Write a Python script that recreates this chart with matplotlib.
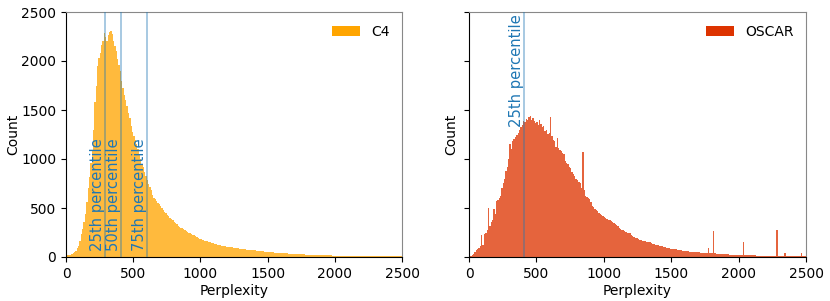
import numpy as np
import matplotlib
matplotlib.use("Agg")
import matplotlib.pyplot as plt
from matplotlib.patches import Patch

# Histogram bin edges: width 10 from 0 to 2500
bin_width = 10
n_bins = 250

c4_counts = [
    15, 18, 20, 25, 30, 40, 50, 65, 90, 115,
    160, 230, 290, 360, 440, 560, 700, 820, 960, 1080,
    1300, 1580, 1750, 1950, 2030, 2080, 2160, 2200, 2290, 2250,
    2200, 2270, 2300, 2310, 2280, 2200, 2150, 2100, 2020, 1960,
    1900, 1800, 1720, 1650, 1600, 1540, 1470, 1420, 1340, 1280,
    1230, 1190, 1150, 1100, 1040, 1000, 950, 920, 870, 830,
    790, 740, 710, 680, 630, 600, 590, 570, 555, 545,
    520, 500, 480, 460, 445, 430, 420, 400, 385, 375,
    360, 350, 335, 320, 310, 300, 295, 285, 275, 270,
    260, 250, 240, 235, 225, 220, 210, 200, 195, 188,
    182, 178, 172, 168, 165, 160, 155, 150, 145, 140,
    135, 130, 125, 122, 119, 115, 112, 110, 108, 106,
    104, 102, 100, 98, 96, 94, 92, 90, 88, 86,
    84, 82, 80, 78, 76, 74, 72, 70, 69, 68,
    67, 66, 65, 64, 62, 60, 58, 56, 54, 52,
    51, 50, 48, 47, 46, 45, 44, 43, 42, 41,
    40, 39, 38, 37, 36, 35, 34, 33, 32, 31,
    30, 29, 28, 28, 27, 27, 26, 26, 25, 25,
    24, 23, 22, 22, 21, 21, 20, 20, 19, 19,
    18, 18, 17, 17, 17, 16, 16, 16, 15, 15,
    15, 14, 14, 14, 13, 13, 13, 13, 12, 12,
    12, 12, 11, 11, 11, 11, 10, 10, 10, 10,
    10, 10, 9, 9, 9, 9, 9, 9, 8, 8,
    8, 8, 8, 8, 8, 7, 7, 7, 7, 7,
    7, 7, 7, 6, 6, 6, 6, 6, 6, 6,
]

oscar_counts = [
    60, 15, 20, 30, 50, 75, 85, 90, 110, 220,
    120, 230, 250, 280, 500, 320, 360, 380, 490, 440,
    570, 580, 600, 620, 700, 760, 800, 880, 920, 1000,
    1150, 1100, 1180, 1200, 1220, 1240, 1270, 1300, 1330, 1350,
    1390, 1380, 1410, 1400, 1430, 1440, 1400, 1420, 1390, 1370,
    1380, 1350, 1400, 1360, 1330, 1340, 1290, 1300, 1260, 1270,
    1430, 1230, 1190, 1180, 1120, 1210, 1110, 1090, 1080, 1060,
    1050, 980, 960, 950, 920, 910, 870, 850, 830, 800,
    790, 770, 760, 700, 1070, 680, 620, 610, 600, 590,
    560, 520, 510, 490, 480, 470, 450, 440, 430, 420,
    405, 395, 390, 380, 375, 365, 355, 345, 340, 330,
    320, 300, 290, 280, 275, 265, 258, 250, 245, 240,
    225, 210, 205, 195, 190, 185, 178, 172, 168, 165,
    160, 155, 152, 150, 148, 140, 135, 130, 125, 120,
    118, 115, 112, 108, 105, 100, 95, 92, 90, 86,
    84, 82, 80, 78, 75, 72, 70, 68, 66, 63,
    61, 60, 58, 56, 55, 53, 52, 50, 49, 48,
    46, 45, 44, 43, 42, 41, 40, 95, 40, 38,
    37, 265, 36, 35, 34, 33, 32, 31, 30, 29,
    28, 27, 26, 25, 25, 24, 23, 22, 22, 21,
    20, 20, 20, 150, 19, 19, 18, 18, 17, 17,
    17, 16, 16, 15, 15, 15, 14, 14, 14, 13,
    13, 13, 12, 12, 12, 12, 11, 11, 272, 11,
    10, 10, 10, 10, 41, 10, 9, 9, 9, 9,
    9, 9, 8, 8, 8, 8, 41, 8, 8, 8,
]

c4_percentiles = [292, 411, 603]
c4_percentile_labels = ["25th percentile", "50th percentile", "75th percentile"]
oscar_percentiles = [408]
oscar_percentile_labels = ["25th percentile"]

x_ticks = [0, 500, 1000, 1500, 2000, 2500]
y_ticks = [0, 500, 1000, 1500, 2000, 2500]

c4_color = "#ffa500"
oscar_color = "#dd3300"
line_color = "#1f77b4"

edges = np.arange(n_bins + 1) * bin_width

fig = plt.figure(figsize=(8.30, 3.01), dpi=100)
ax1 = fig.add_axes([66 / 830, 1 - 257 / 301, (402 - 66) / 830, 245 / 301])
ax2 = fig.add_axes([469 / 830, 1 - 257 / 301, (806 - 469) / 830, 245 / 301])


def draw(ax, counts, color, label, pcts, plabels, text_y, ypad):
    ax.bar(edges[:-1], counts, width=bin_width, align="edge",
           color=color, alpha=0.76, linewidth=0)
    for p, t in zip(pcts, plabels):
        ax.axvline(p, color=line_color, alpha=0.5, linewidth=1.1, zorder=3)
        ax.text(p, text_y, t, rotation=90, ha="right", va="bottom",
                color=line_color, fontsize=10.6, zorder=4)
    ax.set_xlim(0, 2500)
    ax.set_ylim(0, 2500)
    ax.set_xticks(x_ticks)
    ax.set_yticks(y_ticks)
    ax.set_xlabel("Perplexity", fontsize=10, labelpad=2)
    ax.set_ylabel("Count", fontsize=10, labelpad=ypad)
    ax.tick_params(labelsize=10)
    for s in ["top", "right"]:
        ax.spines[s].set_color("#888888")
    ax.legend(handles=[Patch(facecolor=color, label=label)],
              loc="upper right", frameon=False, fontsize=10)


draw(ax1, c4_counts, c4_color, "C4", c4_percentiles, c4_percentile_labels, 65, 0.5)
draw(ax2, oscar_counts, oscar_color, "OSCAR", oscar_percentiles,
     oscar_percentile_labels, 1330, 1.0)
ax2.set_yticklabels([])

fig.savefig("out.png", dpi=100)
